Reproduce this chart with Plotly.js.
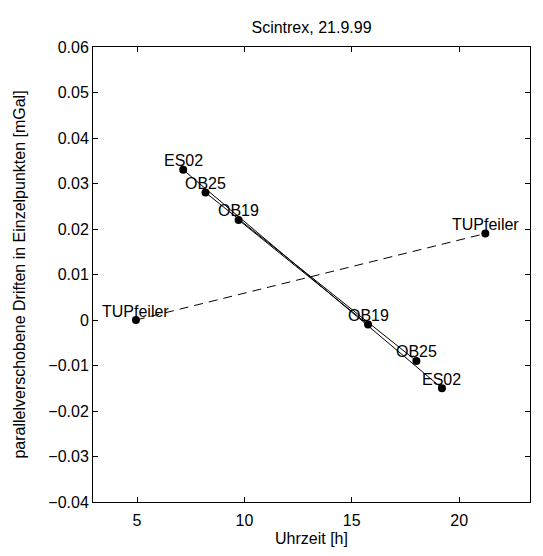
<!DOCTYPE html>
<html>
<head>
<meta charset="utf-8">
<script src="https://cdn.plot.ly/plotly-3.0.1.min.js"></script>
<style>html,body{margin:0;padding:0;background:#fff;}#chart{width:543px;height:556px;}</style>
</head>
<body>
<div id="chart"></div>
<script>
// Station labels
const stations = ["ES02", "OB25", "OB19"];
// First visit (morning) times [h] and drifts [mGal]
const t1 = [7.15, 8.19, 9.73];
const d1 = [0.033, 0.028, 0.022];
// Second visit (afternoon) times [h] and drifts [mGal]
const t2 = [19.20, 18.01, 15.76];
const d2 = [-0.015, -0.009, -0.001];
// Reference pillar (TUPfeiler)
const refName = "TUPfeiler";
const refT = [4.95, 21.22];
const refD = [0.000, 0.019];
// Axis ticks
const xTicks = [5, 10, 15, 20];
const yTicks = [-0.04, -0.03, -0.02, -0.01, 0, 0.01, 0.02, 0.03, 0.04, 0.05, 0.06];
const yTickText = ["\u22120.04", "\u22120.03", "\u22120.02", "\u22120.01", "0", "0.01", "0.02", "0.03", "0.04", "0.05", "0.06"];

const FONT = "Liberation Sans, Arial, Helvetica, sans-serif";
const traces = [];
for (let i = 0; i < stations.length; i++) {
  traces.push({
    x: [t1[i], t2[i]], y: [d1[i], d2[i]],
    mode: "lines+markers", type: "scatter",
    line: {color: "#000", width: 1},
    marker: {color: "#000", size: 8},
    hoverinfo: "skip", showlegend: false
  });
}
traces.push({
  x: refT, y: refD, mode: "lines+markers", type: "scatter",
  line: {color: "#000", width: 1, dash: "9px,6px"},
  marker: {color: "#000", size: 8},
  hoverinfo: "skip", showlegend: false
});

const annotations = [];
function addLabel(x, y, txt) {
  annotations.push({x: x, y: y, text: txt, showarrow: false, xanchor: "center", yanchor: "middle", yshift: 9,
    font: {family: FONT, size: 16, color: "#000"}});
}
for (let i = 0; i < stations.length; i++) {
  addLabel(t1[i], d1[i], stations[i]);
  addLabel(t2[i], d2[i], stations[i]);
}
addLabel(refT[0], refD[0], refName);
addLabel(refT[1], refD[1], refName);

const axisCommon = {
  showgrid: false, zeroline: false, showline: true, linecolor: "#000", linewidth: 1,
  mirror: "ticks", ticks: "inside", ticklen: 5, tickcolor: "#000", tickwidth: 1,
  tickfont: {family: FONT, size: 16, color: "#000"}
};

const layout = {
  width: 543, height: 556,
  margin: {l: 93, r: 13, t: 47, b: 54},
  paper_bgcolor: "#fff", plot_bgcolor: "#fff",
  title: {text: "Scintrex, 21.9.99", x: 0.5, xref: "paper", xanchor: "center", y: 1, yref: "paper", yanchor: "bottom", pad: {b: 14},
    font: {family: FONT, size: 16, color: "#000"}},
  xaxis: Object.assign({}, axisCommon, {range: [2.95, 23.3], tickvals: xTicks, ticktext: xTicks.map(String), ticklabelstandoff: 4,
    title: {text: "Uhrzeit [h]", standoff: 4, font: {family: FONT, size: 16, color: "#000"}}}),
  yaxis: Object.assign({}, axisCommon, {range: [-0.04, 0.06], tickvals: yTicks, ticktext: yTickText,
    title: {text: "parallelverschobene Driften in Einzelpunkten [mGal]", standoff: 18, font: {family: FONT, size: 16, color: "#000"}}}),
  annotations: annotations
};

Plotly.newPlot("chart", traces, layout, {displayModeBar: false, staticPlot: true});
</script>
</body>
</html>
